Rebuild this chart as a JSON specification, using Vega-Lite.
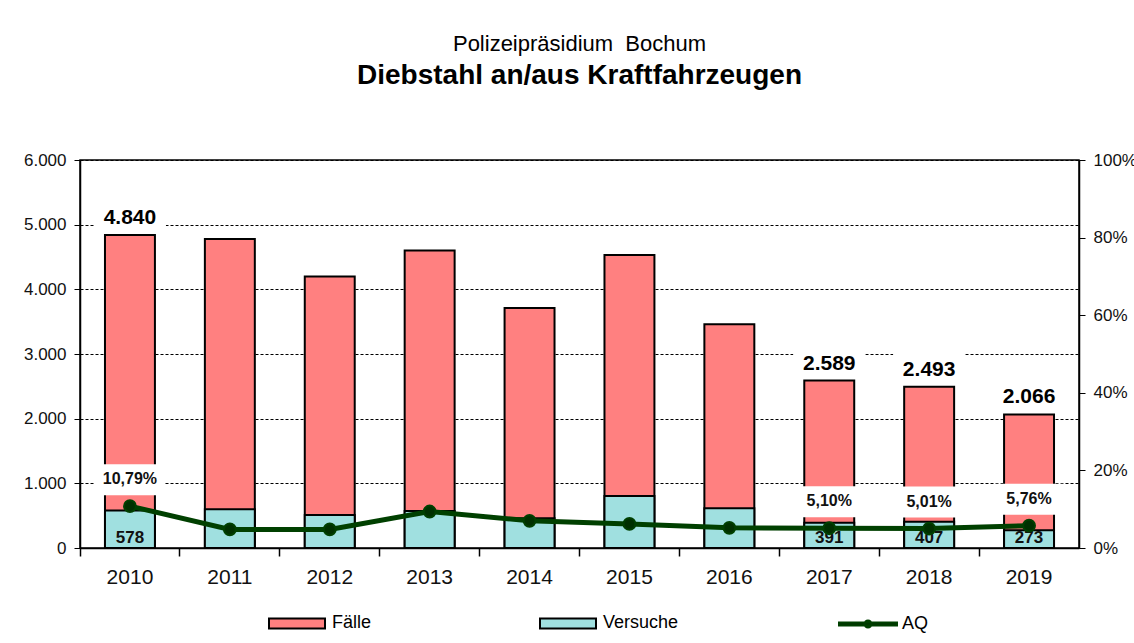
{
  "$schema": "https://vega.github.io/schema/vega-lite/v6.json",
  "width": 999,
  "height": 388,
  "autosize": {"type": "none"},
  "padding": {"left": 80, "top": 160, "right": 55, "bottom": 95},
  "background": "#ffffff",
  "title": {
    "text": "Polizeipräsidium\u00a0 Bochum",
    "subtitle": "Diebstahl an/aus Kraftfahrzeugen",
    "anchor": "middle",
    "font": "Liberation Sans",
    "fontSize": 22,
    "fontWeight": "normal",
    "color": "#000000",
    "subtitleFont": "Liberation Sans",
    "subtitleFontSize": 28,
    "subtitleFontWeight": "bold",
    "subtitleColor": "#000000",
    "subtitlePadding": 6,
    "offset": 60
  },
  "data": {
    "values": [
      {"year": 2010, "faelle": 4840, "versuche": 578, "aq": 0.1079},
      {"year": 2011, "faelle": 4780, "versuche": 600, "aq": 0.048},
      {"year": 2012, "faelle": 4200, "versuche": 510, "aq": 0.048},
      {"year": 2013, "faelle": 4600, "versuche": 572, "aq": 0.094},
      {"year": 2014, "faelle": 3710, "versuche": 459, "aq": 0.070},
      {"year": 2015, "faelle": 4530, "versuche": 804, "aq": 0.062},
      {"year": 2016, "faelle": 3460, "versuche": 614, "aq": 0.052},
      {"year": 2017, "faelle": 2589, "versuche": 391, "aq": 0.0510},
      {"year": 2018, "faelle": 2493, "versuche": 407, "aq": 0.0501},
      {"year": 2019, "faelle": 2066, "versuche": 273, "aq": 0.0576}
    ]
  },
  "layer": [
    {
      "encoding": {
        "x": {
          "field": "year",
          "type": "ordinal",
          "scale": {"paddingInner": 0, "paddingOuter": 0},
          "axis": {
            "orient": "bottom",
            "title": null,
            "ticks": false,
            "labelAngle": 0,
            "labelFontSize": 21,
            "labelPadding": 18,
            "labelColor": "#111111",
            "domain": true,
            "domainColor": "#000000",
            "domainWidth": 1.5,
            "grid": false
          }
        }
      },
      "layer": [
        {
          "mark": {"type": "bar", "width": {"band": 0.5}, "stroke": "#000000", "strokeWidth": 2, "opacity": 1},
          "encoding": {
            "y": {
              "field": "faelle",
              "type": "quantitative",
              "scale": {"domain": [0, 6000], "nice": false},
              "axis": {
                "orient": "left",
                "title": null,
                "values": [0, 1000, 2000, 3000, 4000, 5000, 6000],
                "format": ",d",
                "labelFontSize": 17,
                "labelColor": "#111111",
                "labelPadding": 8,
                "tickSize": 6,
                "tickColor": "#000000",
                "domainColor": "#000000",
                "domainWidth": 1.5,
                "grid": true,
                "gridColor": "#000000",
                "gridDash": [3, 2],
                "gridWidth": 1
              }
            },
            "fill": {
              "datum": "Fälle",
              "type": "nominal",
              "scale": {"domain": ["Fälle", "Versuche"], "range": ["#FF8080", "#A0E0E0"]},
              "legend": {
                "orient": "none",
                "legendX": 188,
                "legendY": 434,
                "direction": "horizontal",
                "columns": 2,
                "columnPadding": 164,
                "title": null,
                "padding": 0,
                "labelFont": "Liberation Sans",
                "labelFontSize": 18,
                "labelColor": "#000000",
                "labelOffset": 6,
                "symbolSize": 3136,
                "symbolType": "M-1,-0.18H1V0.18H-1Z",
                "symbolStrokeColor": "#000000",
                "symbolStrokeWidth": 2,
                "symbolOpacity": 1
              }
            }
          }
        },
        {
          "mark": {"type": "bar", "width": {"band": 0.5}, "stroke": "#000000", "strokeWidth": 2, "opacity": 1},
          "encoding": {
            "y": {"field": "versuche", "type": "quantitative"},
            "fill": {"datum": "Versuche", "type": "nominal"}
          }
        },
        {
          "transform": [{"filter": "datum.year == 2010 || datum.year >= 2017"}],
          "mark": {"type": "bar", "width": {"band": 0.72}, "fill": "#ffffff", "stroke": null, "yOffset": -34, "y2Offset": -3},
          "encoding": {
            "y": {"field": "faelle", "type": "quantitative"},
            "y2": {"field": "faelle"}
          }
        },
        {
          "transform": [{"filter": "datum.year == 2010 || datum.year >= 2017"}],
          "mark": {"type": "text", "font": "Liberation Sans", "fontSize": 21, "fontWeight": "bold", "color": "#000000", "baseline": "alphabetic", "dy": -11},
          "encoding": {
            "y": {"field": "faelle", "type": "quantitative"},
            "text": {"field": "faelle", "type": "quantitative", "format": ",d"}
          }
        },
        {
          "transform": [{"filter": "datum.year == 2010 || datum.year >= 2017"}],
          "mark": {"type": "text", "font": "Liberation Sans", "fontSize": 17, "fontWeight": "bold", "color": "#111111", "baseline": "alphabetic", "dy": -5},
          "encoding": {
            "y": {"datum": 0, "type": "quantitative"},
            "text": {"field": "versuche", "type": "quantitative", "format": "d"}
          }
        }
      ]
    },
    {
      "encoding": {
        "x": {
          "field": "year",
          "type": "ordinal",
          "axis": {
            "orient": "bottom",
            "title": null,
            "labels": false,
            "ticks": true,
            "tickSize": 8,
            "tickColor": "#000000",
            "tickWidth": 1.5,
            "bandPosition": 0,
            "domain": false,
            "grid": false
          }
        }
      },
      "layer": [
        {
          "transform": [{"filter": "datum.year == 2010 || datum.year >= 2017"}],
          "mark": {"type": "bar", "width": {"band": 0.7}, "fill": "#ffffff", "stroke": null, "yOffset": -42, "y2Offset": -11},
          "encoding": {
            "y": {
              "field": "aq",
              "type": "quantitative",
              "scale": {"domain": [0, 1], "nice": false},
              "axis": {
                "orient": "right",
                "title": null,
                "values": [0, 0.2, 0.4, 0.6, 0.8, 1],
                "format": ".0%",
                "labelFontSize": 17,
                "labelColor": "#111111",
                "labelPadding": 8,
                "tickSize": 6,
                "tickColor": "#000000",
                "domainColor": "#000000",
                "domainWidth": 1.5,
                "grid": false
              }
            },
            "y2": {"field": "aq"}
          }
        },
        {
          "mark": {"type": "line", "strokeWidth": 5, "point": {"filled": true, "size": 140, "color": "#003000"}},
          "encoding": {
            "y": {"field": "aq", "type": "quantitative"},
            "stroke": {
              "datum": "AQ",
              "type": "nominal",
              "scale": {"domain": ["AQ"], "range": ["#004000"]},
              "legend": {
                "orient": "none",
                "legendX": 758,
                "legendY": 434,
                "direction": "horizontal",
                "title": null,
                "padding": 0,
                "labelFont": "Liberation Sans",
                "labelFontSize": 18,
                "labelColor": "#000000",
                "labelOffset": 4,
                "symbolSize": 3364,
                "symbolType": "M-1,-0.05H1V0.05H-1Z M-0.12,0A0.12,0.12,0,1,1,0.12,0A0.12,0.12,0,1,1,-0.12,0Z",
                "symbolFillColor": "#004000",
                "symbolStrokeWidth": 2,
                "symbolOpacity": 1
              }
            }
          }
        },
        {
          "transform": [{"filter": "datum.year == 2010 || datum.year >= 2017"}],
          "mark": {"type": "text", "font": "Liberation Sans", "fontSize": 16, "fontWeight": "bold", "color": "#111111", "baseline": "middle", "dy": -27},
          "encoding": {
            "y": {"field": "aq", "type": "quantitative"},
            "text": {"field": "aq", "type": "quantitative", "format": ".2%"}
          }
        }
      ]
    }
  ],
  "resolve": {"scale": {"y": "independent"}, "axis": {"x": "independent"}},
  "config": {
    "font": "Liberation Sans",
    "locale": {
      "number": {"decimal": ",", "thousands": ".", "grouping": [3], "currency": ["", " €"], "percent": "%"}
    },
    "view": {"stroke": "#000000", "strokeWidth": 1.5},
    "axis": {"labelFont": "Liberation Sans"}
  }
}
